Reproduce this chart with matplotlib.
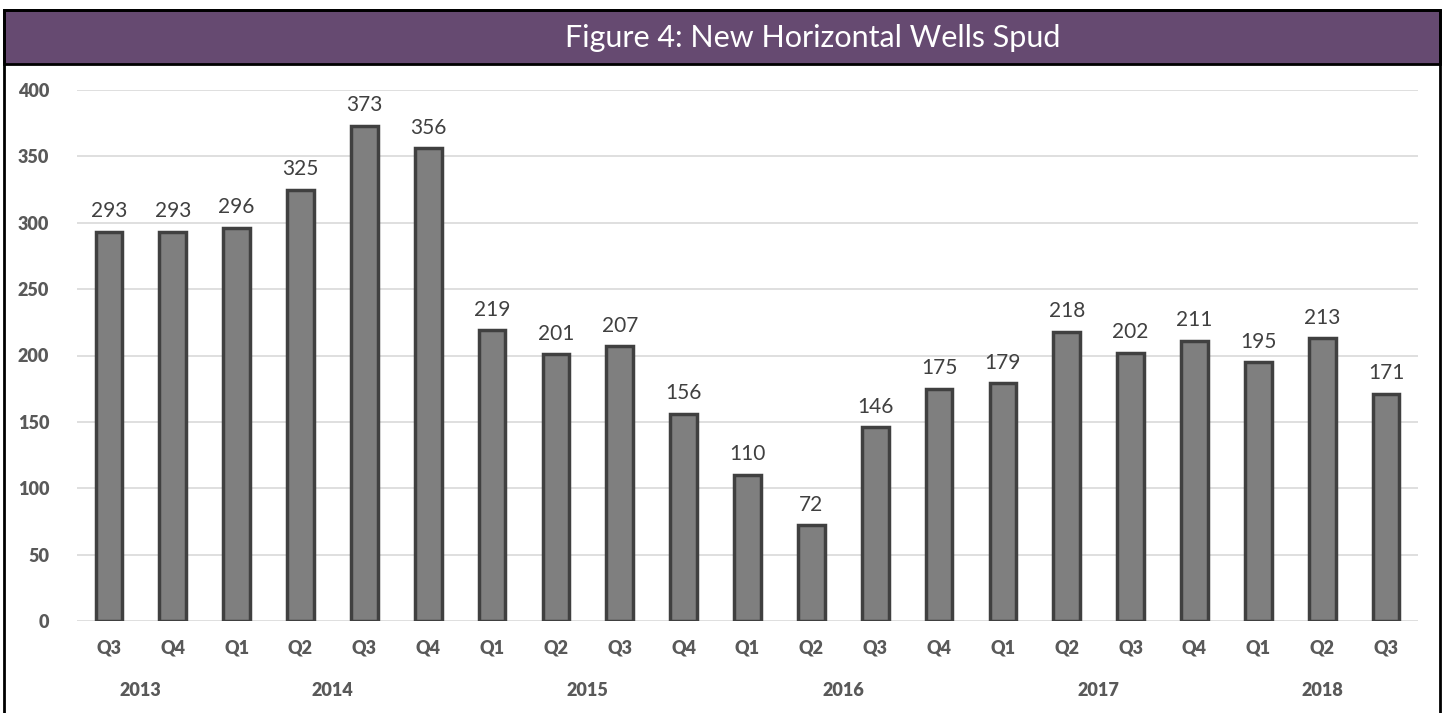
import matplotlib
matplotlib.use("Agg")
import matplotlib.pyplot as plt
from matplotlib.patches import Rectangle

# dados
quarters = ["Q3", "Q4", "Q1", "Q2", "Q3", "Q4", "Q1", "Q2", "Q3", "Q4", "Q1",
            "Q2", "Q3", "Q4", "Q1", "Q2", "Q3", "Q4", "Q1", "Q2", "Q3"]
wells = [293, 293, 296, 325, 373, 356, 219, 201, 207, 156, 110,
         72, 146, 175, 179, 218, 202, 211, 195, 213, 171]
years = ["2013", "2014", "2015", "2016", "2017", "2018"]
year_pos = [0.5, 3.5, 7.5, 11.5, 15.5, 19.0]
yticks = [0, 50, 100, 150, 200, 250, 300, 350, 400]

W, H = 1445, 713
fig = plt.figure(figsize=(W / 100, H / 100), dpi=100)
fig.patch.set_facecolor("white")

# moldura e barra do título
fig.patches.append(Rectangle((4 / W, -0.01), 1436 / W, 1 - 10 / H + 0.01,
                             transform=fig.transFigure, fill=False,
                             edgecolor="black", lw=2, zorder=5))
fig.patches.append(Rectangle((4 / W, 1 - 64 / H), 1436 / W, 54 / H,
                             transform=fig.transFigure, facecolor="#664a71",
                             edgecolor="black", lw=2, zorder=4))
fig.text(813 / W, 1 - 38 / H, "Figure 4: New Horizontal Wells Spud",
         ha="center", va="center", color="white", fontsize=22,
         family="Lato", fontweight="normal", zorder=6)

ax = fig.add_axes([77 / W, 1 - 621 / H, 1341 / W, 531 / H])
x = list(range(len(wells)))
ax.bar(x, wells, width=0.42, color="#7f7f7f", edgecolor="#404040",
       linewidth=2.5, zorder=3)
for xi, v in zip(x, wells):
    ax.text(xi, v + 8, str(v), ha="center", va="bottom", fontsize=15,
            color="#404040", family="Lato")

ax.set_xlim(-0.5, len(wells) - 0.5)
ax.set_ylim(0, 400)
ax.set_yticks(yticks)
ax.set_yticklabels([str(t) for t in yticks], fontsize=13, fontweight="heavy",
                   color="#595959", family="Lato")
ax.set_xticks(x)
ax.set_xticklabels(quarters, fontsize=13, fontweight="heavy",
                   color="#595959", family="Lato")
ax.tick_params(axis="both", length=0)
ax.tick_params(axis="x", pad=13)
ax.tick_params(axis="y", pad=20)
ax.grid(axis="y", color="#d9d9d9", lw=1.2, zorder=0)
for s in ax.spines.values():
    s.set_visible(False)

for yr, p in zip(years, year_pos):
    ax.text(p, -0.13, yr, transform=ax.get_xaxis_transform(), ha="center",
            va="center", fontsize=13, fontweight="heavy", color="#595959",
            family="Lato")

fig.savefig("out.png", dpi=100)
